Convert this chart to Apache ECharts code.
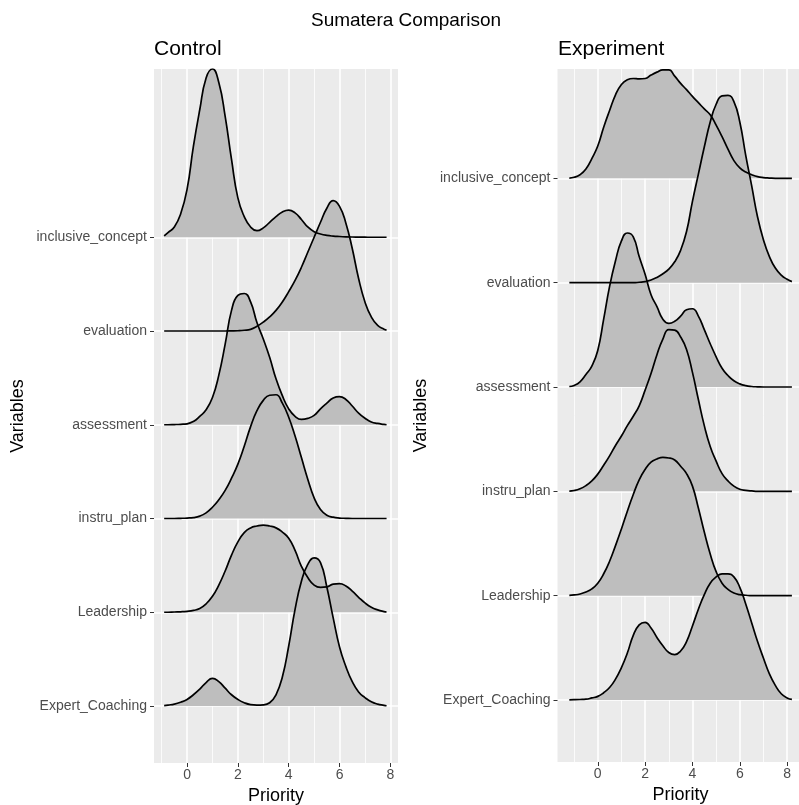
<!DOCTYPE html>
<html><head><meta charset="utf-8">
<script src="https://cdn.jsdelivr.net/npm/echarts@6/dist/echarts.min.js"></script>
<style>html,body{margin:0;padding:0;background:#fff}#c{width:799px;height:805px}</style>
</head><body><div id="c"></div><script>
// rows from bottom (1) to top (6)
const variables = ['Expert_Coaching','Leadership','instru_plan','assessment','evaluation','inclusive_concept'];
const xTicks = [0, 2, 4, 6, 8];
const xMinorTicks = [-1, 1, 3, 5, 7];
const rowTicks = [1, 2, 3, 4, 5, 6];

// Control panel: sample positions (Priority) and ridge heights (in row units)
const xsControl = [-0.9,-0.75,-0.5,-0.25,0,0.25,0.5,0.75,1,1.25,1.5,1.75,2,2.25,2.5,2.75,3,3.25,3.5,3.75,4,4.25,4.5,4.75,5,5.25,5.5,5.75,6,6.25,6.5,6.75,7,7.25,7.5,7.75,7.85];
const ctrlInclusive = [0.014,0.05,0.11,0.25,0.51,0.97,1.36,1.70,1.795,1.65,1.29,0.83,0.42,0.22,0.11,0.07,0.10,0.16,0.22,0.27,0.29,0.26,0.19,0.11,0.06,0.035,0.02,0.012,0.008,0.005,0.003,0.002,0.001,0,0,0,0];
const ctrlEvaluation = [0,0,0,0,0,0,0,0,0,0,0,0.001,0.003,0.008,0.018,0.05,0.095,0.15,0.22,0.31,0.42,0.54,0.68,0.84,1.00,1.16,1.31,1.39,1.33,1.15,0.88,0.56,0.31,0.15,0.06,0.02,0.01];
const ctrlAssessment = [0,0,0.002,0.005,0.01,0.035,0.09,0.16,0.29,0.53,0.86,1.22,1.38,1.40,1.31,1.09,0.915,0.72,0.49,0.31,0.17,0.09,0.057,0.068,0.10,0.17,0.23,0.285,0.30,0.27,0.20,0.125,0.07,0.03,0.014,0.004,0];
const ctrlInstru = [0,0,0,0.002,0.005,0.01,0.025,0.06,0.12,0.20,0.30,0.43,0.58,0.77,0.98,1.15,1.26,1.315,1.32,1.23,1.08,0.88,0.65,0.42,0.22,0.095,0.035,0.014,0.005,0.002,0,0,0,0,0,0,0];
const ctrlLeadership = [0,0,0.003,0.005,0.01,0.02,0.04,0.09,0.17,0.29,0.44,0.61,0.75,0.85,0.90,0.92,0.93,0.92,0.90,0.855,0.79,0.66,0.49,0.37,0.29,0.265,0.27,0.30,0.305,0.28,0.225,0.16,0.10,0.053,0.025,0.007,0.003];
const ctrlExpert = [0.005,0.01,0.02,0.04,0.07,0.12,0.18,0.25,0.295,0.26,0.19,0.12,0.07,0.035,0.015,0.01,0.012,0.035,0.12,0.31,0.64,1.03,1.33,1.51,1.58,1.53,1.27,0.94,0.63,0.42,0.26,0.15,0.09,0.045,0.02,0.007,0.003];

// Experiment panel
const xsExperiment = [-1.2,-1,-0.75,-0.5,-0.25,0,0.25,0.5,0.75,1,1.25,1.5,1.75,2,2.25,2.5,2.75,3,3.25,3.5,3.75,4,4.25,4.5,4.75,5,5.25,5.5,5.75,6,6.25,6.5,6.75,7,7.25,7.5,7.75,8,8.2];
const expInclusive = [0.003,0.01,0.035,0.09,0.19,0.31,0.49,0.65,0.80,0.90,0.945,0.957,0.953,0.957,0.99,1.018,1.04,1.04,0.98,0.91,0.85,0.785,0.725,0.665,0.61,0.51,0.40,0.28,0.17,0.10,0.06,0.035,0.016,0.007,0.003,0,0,0,0];
const expEvaluation = [0,0,0,0,0,0,0,0,0,0,0,0,0.004,0.01,0.025,0.05,0.085,0.13,0.20,0.31,0.49,0.78,1.04,1.30,1.54,1.71,1.79,1.795,1.735,1.54,1.22,0.93,0.63,0.41,0.25,0.14,0.073,0.032,0.01];
const expAssessment = [0.005,0.015,0.05,0.12,0.20,0.35,0.65,0.965,1.21,1.40,1.476,1.44,1.25,1.08,0.885,0.77,0.65,0.61,0.63,0.68,0.74,0.75,0.68,0.55,0.415,0.29,0.18,0.11,0.06,0.03,0.013,0.005,0.002,0,0,0,0,0,0];
const expInstru = [0.003,0.008,0.025,0.055,0.10,0.165,0.25,0.34,0.44,0.53,0.63,0.72,0.82,0.97,1.13,1.31,1.46,1.55,1.545,1.48,1.36,1.14,0.88,0.63,0.43,0.29,0.17,0.10,0.05,0.02,0.01,0.004,0,0,0,0,0,0,0];
const expLeadership = [0.003,0.007,0.016,0.035,0.065,0.12,0.21,0.33,0.48,0.64,0.81,0.97,1.11,1.21,1.28,1.31,1.325,1.32,1.30,1.24,1.17,1.05,0.84,0.61,0.40,0.23,0.12,0.06,0.025,0.01,0.004,0,0,0,0,0,0,0,0];
const expExpert = [0.002,0.003,0.005,0.008,0.02,0.035,0.07,0.12,0.20,0.31,0.45,0.62,0.72,0.745,0.69,0.60,0.52,0.455,0.435,0.47,0.56,0.71,0.87,1.01,1.12,1.18,1.21,1.21,1.18,1.08,0.92,0.74,0.56,0.40,0.25,0.14,0.06,0.02,0.006];

const FONT = 'Liberation Sans, Arial, sans-serif';
const FILL = '#BEBEBE';

const panels = [
  { xs: xsControl, rows: [ctrlExpert, ctrlLeadership, ctrlInstru, ctrlAssessment, ctrlEvaluation, ctrlInclusive],
    grid: { left: 154, top: 69, width: 244, height: 694 }, xMin: -1.30, xMax: 8.30, yMin: 0.392, yMax: 7.795 },
  { xs: xsExperiment, rows: [expExpert, expLeadership, expInstru, expAssessment, expEvaluation, expInclusive],
    grid: { left: 557.5, top: 69, width: 246, height: 693 }, xMin: -1.70, xMax: 8.69, yMin: 0.406, yMax: 7.048 }
];

const grids = [], xAxes = [], yAxes = [], series = [];
panels.forEach((p, pi) => {
  grids.push(Object.assign({ show: true, backgroundColor: '#EBEBEB', borderWidth: 0, containLabel: false, outerBoundsMode: 'none' }, p.grid));
  xAxes.push({
    type: 'value', gridIndex: pi, min: p.xMin, max: p.xMax,
    axisLine: { show: false, onZero: false },
    axisTick: { show: true, customValues: xTicks, length: 4, lineStyle: { color: '#333', width: 1 } },
    axisLabel: { customValues: xTicks, color: '#4D4D4D', fontSize: 14, margin: 5, fontFamily: FONT },
    splitLine: { show: true, lineStyle: { color: '#FFFFFF', width: 1.6 } },
    name: 'Priority', nameLocation: 'middle', nameGap: 20.5,
    nameTextStyle: { color: '#000', fontSize: 18, fontFamily: FONT }
  });
  xAxes.push({
    type: 'value', gridIndex: pi, min: p.xMin, max: p.xMax,
    axisLine: { show: false, onZero: false },
    axisTick: { show: false, customValues: xMinorTicks },
    axisLabel: { show: false, customValues: xMinorTicks },
    splitLine: { show: true, lineStyle: { color: '#FFFFFF', width: 0.8 } }
  });
  yAxes.push({
    type: 'value', gridIndex: pi, min: p.yMin, max: p.yMax,
    axisLine: { show: false, onZero: false },
    axisTick: { show: true, customValues: rowTicks, length: 4, lineStyle: { color: '#333', width: 1 } },
    axisLabel: { customValues: rowTicks, formatter: v => variables[Math.round(v) - 1], color: '#4D4D4D', fontSize: 14, margin: 7, fontFamily: FONT },
    splitLine: { show: true, lineStyle: { color: '#FFFFFF', width: 1.6 } },
    name: 'Variables', nameLocation: 'middle', nameGap: 127, nameRotate: 90,
    nameTextStyle: { color: '#000', fontSize: 18, fontFamily: FONT }
  });
  // draw from top row to bottom so lower ridges overlap upper ones
  for (let r = p.rows.length - 1; r >= 0; r--) {
    const base = r + 1;
    const vals = p.rows[r];
    series.push({
      type: 'line', name: variables[r], xAxisIndex: pi * 2, yAxisIndex: pi,
      data: p.xs.map((x, i) => [x, base + vals[i]]),
      smooth: 0.5, symbol: 'none', silent: true,
      lineStyle: { color: '#000', width: 1.7 },
      areaStyle: { color: FILL, opacity: 1, origin: base }
    });
  }
});

const chart = echarts.init(document.getElementById('c'), null, { renderer: 'canvas' });
chart.setOption({
  animation: false,
  backgroundColor: '#FFFFFF',
  textStyle: { fontFamily: FONT },
  grid: grids, xAxis: xAxes, yAxis: yAxes, series: series,
  graphic: [
    { type: 'text', x: 406, y: 21, style: { text: 'Sumatera Comparison', fontSize: 19, fontFamily: FONT, fill: '#000', align: 'center', verticalAlign: 'middle' } },
    { type: 'text', x: 154, y: 49, style: { text: 'Control', fontSize: 21, fontFamily: FONT, fill: '#000', align: 'left', verticalAlign: 'middle' } },
    { type: 'text', x: 558, y: 49, style: { text: 'Experiment', fontSize: 21, fontFamily: FONT, fill: '#000', align: 'left', verticalAlign: 'middle' } }
  ]
});
</script></body></html>
